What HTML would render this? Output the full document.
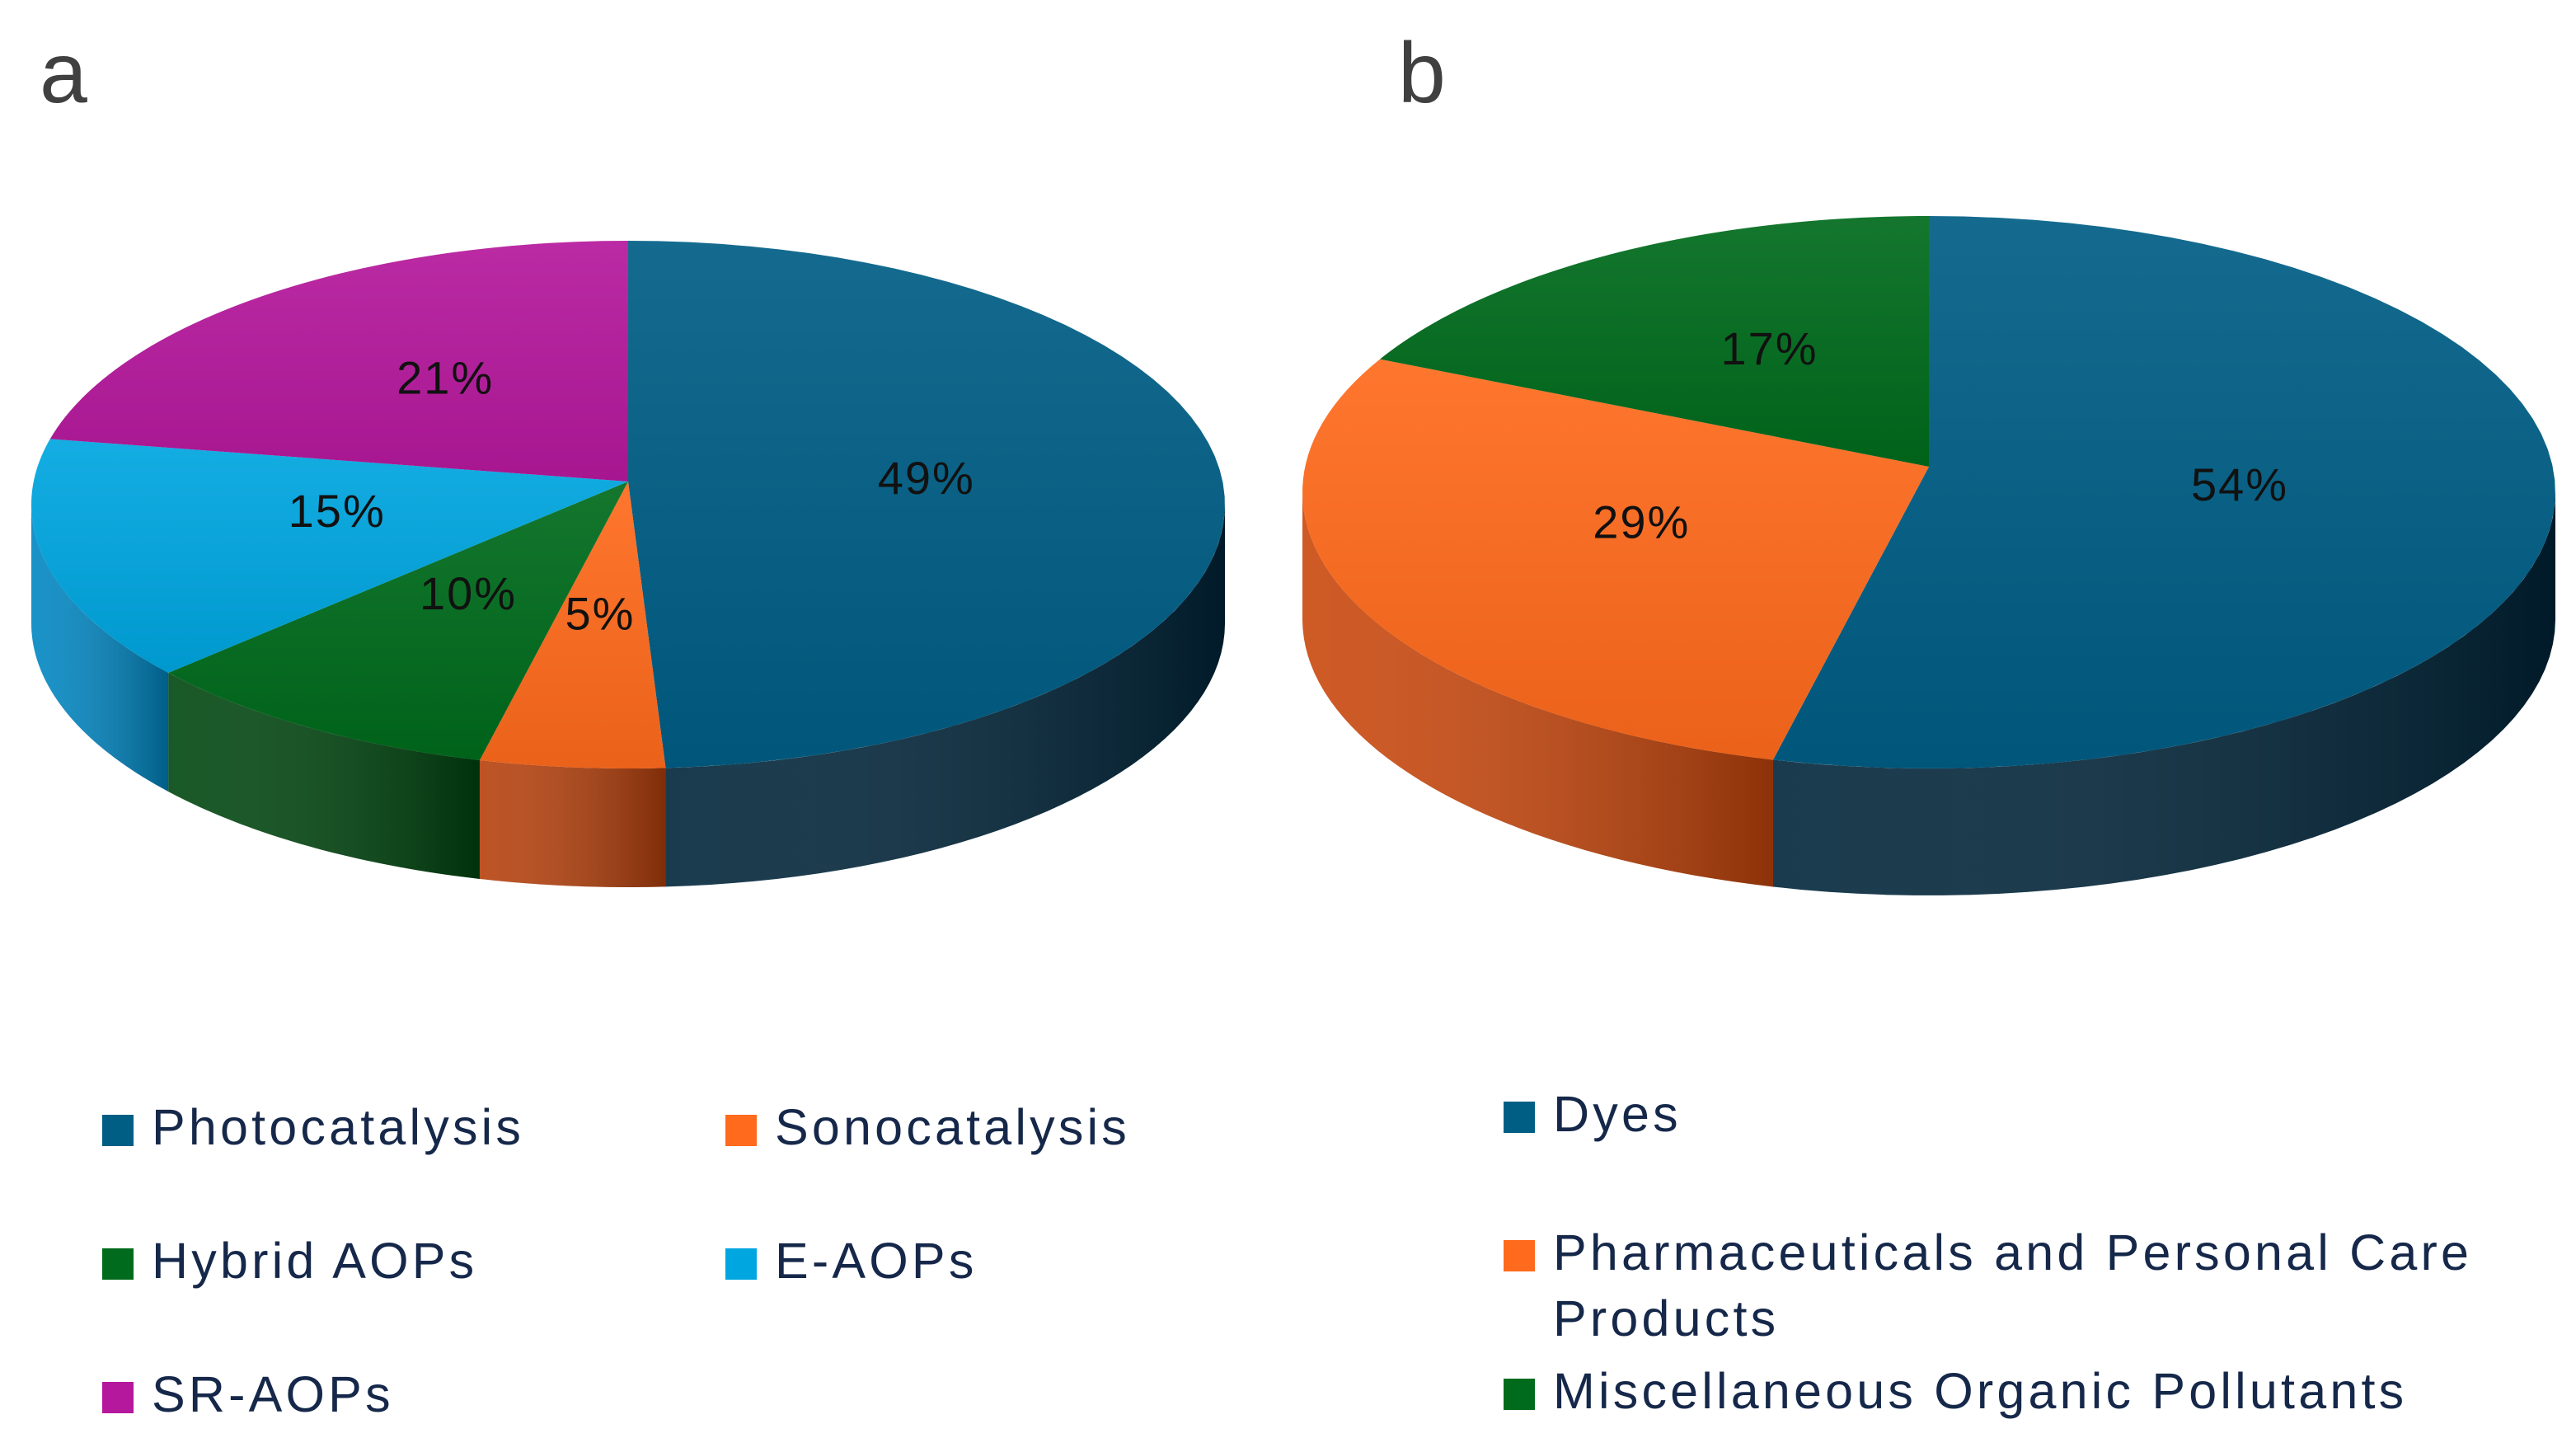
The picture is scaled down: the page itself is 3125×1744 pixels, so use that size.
<!DOCTYPE html>
<html><head><meta charset="utf-8"><style>
html,body{margin:0;padding:0;background:#fff;}
svg{display:block;}
text{font-family:"Liberation Sans",sans-serif;}
</style></head><body>
<svg id="chart" width="3125" height="1744" viewBox="0 0 1562.5 872" xmlns="http://www.w3.org/2000/svg">
<defs>
<linearGradient id="sideShade" x1="0" y1="0" x2="1" y2="0">
<stop offset="0" stop-color="#fff" stop-opacity="0.1"/><stop offset="1" stop-color="#000" stop-opacity="0.3"/></linearGradient>
<linearGradient id="topShade" x1="0" y1="0" x2="0" y2="1">
<stop offset="0" stop-color="#fff" stop-opacity="0.08"/><stop offset="1" stop-color="#000" stop-opacity="0.08"/></linearGradient>
</defs>
<text x="24" y="62" font-size="52" fill="#404040">a</text>
<text x="848" y="62" font-size="52" fill="#404040">b</text>
<g id="pieA"></g>
<g id="pieB"></g>
<g id="legendA"></g>
<g id="legendB"></g>
</svg>
<script>
const catsA = ["Photocatalysis","Sonocatalysis","Hybrid AOPs","E-AOPs","SR-AOPs"];
const valsA = [49,5,10,15,21];
const catsB = ["Dyes","Pharmaceuticals and Personal Care Products","Miscellaneous Organic Pollutants"];
const valsB = [54,29,17];
const colA = ["#005e85","#ff6a1c","#006b1c","#00a6e0","#b5189c"];
const sideA = ["#00253a","#b5400c","#00460f","#0086c2","#7a0f69"];
const colB = ["#005e85","#ff6a1c","#006b1c"];
const sideB = ["#00253a","#c9470c","#00460f"];
const NS="http://www.w3.org/2000/svg";
function mk(tag,attrs,parent){const e=document.createElementNS(NS,tag);for(const k in attrs)e.setAttribute(k,attrs[k]);parent.appendChild(e);return e;}
function drawPie(g,vals,cats,cols,sides,cx,cy,rx,ry,apexY,depth,prefix){
  const total=vals.reduce((a,b)=>a+b,0);
  const P=(t,dy)=>[cx+rx*Math.sin(t),cy-ry*Math.cos(t)+(dy||0)];
  let a0=0;const angs=[];
  vals.forEach(v=>{const a1=a0+v/total*2*Math.PI;angs.push([a0,a1]);a0=a1;});
  angs.forEach((an,i)=>{
    const s=Math.max(an[0],Math.PI/2), e=Math.min(an[1],3*Math.PI/2);
    if(e<=s)return;
    let d="";const n=40;
    for(let k=0;k<=n;k++){const p=P(s+(e-s)*k/n);d+=(k?"L":"M")+p[0].toFixed(2)+","+p[1].toFixed(2);}
    for(let k=n;k>=0;k--){const p=P(s+(e-s)*k/n,depth);d+="L"+p[0].toFixed(2)+","+p[1].toFixed(2);}
    d+="Z";
    const el=mk("path",{d:d,fill:sides[i]},g);
    
    
    const sh=mk("path",{d:d,fill:"url(#sideShade)"},g);
    
    
  });
  angs.forEach((an,i)=>{
    let d="M"+cx+","+apexY;const n=60;
    for(let k=0;k<=n;k++){const p=P(an[0]+(an[1]-an[0])*k/n);d+="L"+p[0].toFixed(2)+","+p[1].toFixed(2);}
    d+="Z";
    const el=mk("path",{d:d,fill:cols[i]},g);
    
    
    const sh=mk("path",{d:d,fill:"url(#topShade)"},g);
    
    
  });
  angs.forEach((an,i)=>{
    const m=(an[0]+an[1])/2;
    const x=cx+rx*0.5*Math.sin(m), y=apexY-ry*0.5*Math.cos(m);
    const t=mk("text",{x:x,y:y+10,"font-size":28,"letter-spacing":1,"text-anchor":"middle",fill:"#111"},g);
    t.textContent=vals[i]+"%";
    
    
  });
}
drawPie(document.getElementById("pieA"),valsA,catsA,colA,sideA,381,306,362,160,292,72,"pie-a");
drawPie(document.getElementById("pieB"),valsB,catsB,colB,sideB,1170,298.5,380,167.5,283,77,"pie-b");
function legend(g,items){
  items.forEach((it,i)=>{
    const r=mk("rect",{x:it[1],y:it[2]-18,width:19,height:19,fill:it[3]},g);
    
    
    it[0].forEach((line,j)=>{
      const t=mk("text",{x:it[1]+30,y:it[2]+j*40,"font-size":30.5,"letter-spacing":2.1,fill:"#16284a"},g);
      t.textContent=line;
      
      
    });
  });
}
legend(document.getElementById("legendA"),[
 [[catsA[0]],62,694,colA[0]],[[catsA[1]],440,694,colA[1]],
 [[catsA[2]],62,775,colA[2]],[[catsA[3]],440,775,colA[3]],
 [[catsA[4]],62,856,colA[4]]]);
legend(document.getElementById("legendB"),[
 [[catsB[0]],912,686,colB[0]],
 [["Pharmaceuticals and Personal Care","Products"],912,770,colB[1]],
 [[catsB[2]],912,854,colB[2]]]);
</script>
</body></html>
